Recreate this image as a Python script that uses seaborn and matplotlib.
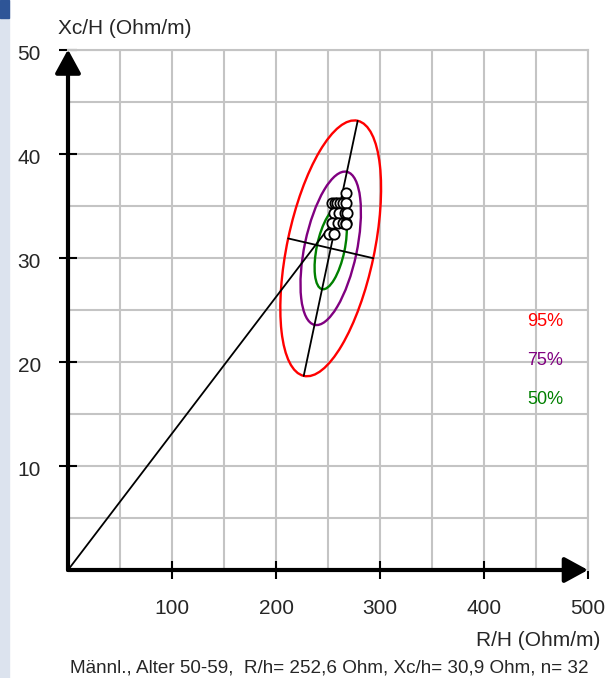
import numpy as np
import seaborn as sns
from matplotlib import pyplot as plt
from matplotlib.patches import Ellipse, Rectangle
from matplotlib.ticker import MultipleLocator
from matplotlib.transforms import Affine2D, ScaledTranslation

# reference population (tolerance ellipses)
ref_mean = [252.6, 30.9]
half_major = [25.95, 12.25]   # centre -> top of the 95% ellipse
half_minor = [40.9, -0.95]    # centre -> right end of the 95% ellipse
levels = ['95%', '75%', '50%']
level_scale = [1.0, 0.6, 0.32]
level_colors = ['#ff0000', '#800080', '#008000']
label_y = [23.9, 20.1, 16.35]

# measured points
r_h = [267.0, 254.0, 257.0, 259.0, 261.5, 264.0, 267.0, 256.0, 261.0, 266.0,
       268.0, 253.5, 260.0, 264.5, 267.0, 267.5, 250.5, 255.5]
xc_h = [36.2, 35.3, 35.3, 35.3, 35.3, 35.3, 35.3, 34.3, 34.3, 34.3,
        34.3, 33.3, 33.3, 33.3, 33.3, 33.2, 32.3, 32.3]

x_ticks = [100, 200, 300, 400, 500]
y_ticks = [10, 20, 30, 40, 50]

sns.set_style('white')
plt.rcParams['font.family'] = ['Liberation Sans', 'DejaVu Sans']

fig = plt.figure(figsize=(6.06, 6.78), dpi=100)
ax = fig.add_axes([68 / 606, 1 - 570 / 678, 520 / 606, 520.5 / 678])
ax.set_xlim(0, 500)
ax.set_ylim(0, 50)

# grid
ax.xaxis.set_minor_locator(MultipleLocator(50))
ax.yaxis.set_minor_locator(MultipleLocator(5))
ax.set_xticks(x_ticks)
ax.set_yticks(y_ticks)
ax.grid(which='both', color='#c4c4c4', lw=1.5)
ax.set_axisbelow(True)
ax.tick_params(which='minor', length=0)
ax.tick_params(which='major', bottom=True, left=True, direction='inout',
               length=13, width=1.5, color='black', labelsize=15, pad=13)
for lab in ax.get_yticklabels():
    lab.set_transform(lab.get_transform() +
                      ScaledTranslation(0, -3 / 100, fig.dpi_scale_trans))
for lab in ax.get_xticklabels():
    lab.set_transform(lab.get_transform() +
                      ScaledTranslation(0, -2 / 100, fig.dpi_scale_trans))
for side in ['left', 'bottom']:
    ax.spines[side].set_visible(False)
for side in ['top', 'right']:
    ax.spines[side].set_color('#c4c4c4')
    ax.spines[side].set_linewidth(1.5)

# axis arrows
for end in [(0, 50), (500, 0)]:
    ax.annotate('', xy=end, xytext=(0, 0), annotation_clip=False,
                arrowprops=dict(arrowstyle='-|>,head_length=0.55,head_width=0.3',
                                mutation_scale=26, lw=3, color='black',
                                shrinkA=0, shrinkB=0))

# tolerance ellipses
cx, cy = ref_mean
ux, uy = half_major
vx, vy = half_minor
for s, col in zip(level_scale, level_colors):
    m = np.array([[s * ux, s * vx, cx], [s * uy, s * vy, cy], [0, 0, 1]])
    ax.add_patch(Ellipse((0, 0), 2, 2, fill=False, ec=col, lw=1.7,
                         transform=Affine2D(m) + ax.transData))

ax.plot([cx - ux, cx + ux], [cy - uy, cy + uy], color='black', lw=1.3)
ax.plot([cx - vx, cx + vx], [cy - vy, cy + vy], color='black', lw=1.3)
ax.plot([0, np.mean(r_h)], [0, np.mean(xc_h)], color='black', lw=1.3)

sns.scatterplot(x=r_h, y=xc_h, ax=ax, s=55, color='white',
                edgecolor='black', linewidth=1.3, zorder=5)

for lab, col, yy in zip(levels, level_colors, label_y):
    ax.text(459, yy, lab, color=col, fontsize=13, ha='center', va='center')

fig.text(58 / 606, 1 - 28 / 678, 'Xc/H (Ohm/m)', fontsize=15, va='center')
fig.text(600 / 606, 1 - 640 / 678, 'R/H (Ohm/m)', fontsize=15,
         ha='right', va='center')
fig.text(329 / 606, 1 - 668 / 678,
         'Männl., Alter 50-59,  R/h= 252,6 Ohm, Xc/h= 30,9 Ohm, n= 32',
         fontsize=13.6, ha='center', va='center')

# window strip on the left edge of the screenshot
fig.patches.append(Rectangle((0, 0), 9 / 606, 1, transform=fig.transFigure,
                             color='#dce3ee', zorder=0))
fig.patches.append(Rectangle((0, 1 - 18 / 678), 9 / 606, 18 / 678,
                             transform=fig.transFigure, color='#2e5597', zorder=0))

plt.savefig('out.png', dpi=100)
plt.close()
